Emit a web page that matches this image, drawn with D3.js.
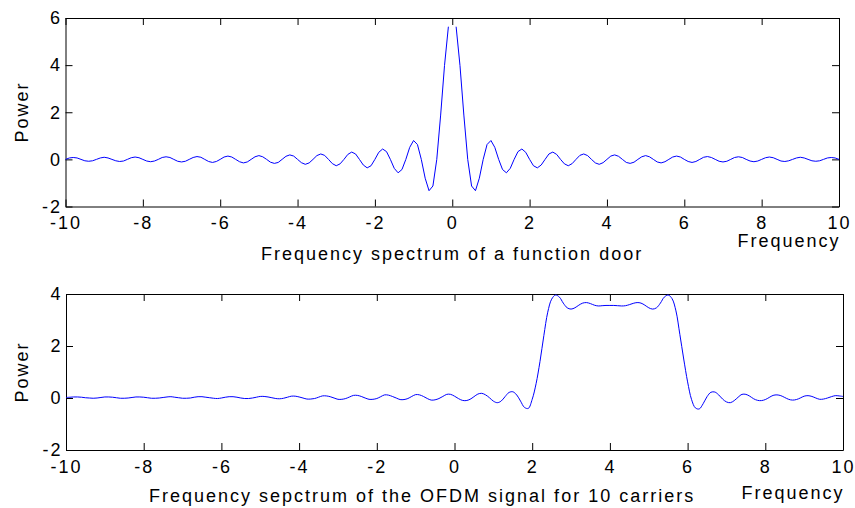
<!DOCTYPE html>
<html>
<head>
<meta charset="utf-8">
<script src="https://cdn.jsdelivr.net/npm/d3@7"></script>
<style>
  body { margin: 0; background: #fff; }
  text { font-family: "Liberation Sans", Arial, Helvetica, sans-serif; }
</style>
</head>
<body>
<svg id="chart" width="855" height="508"></svg>
<script>
// ---------------------------------------------------------------------------
// Data
// ---------------------------------------------------------------------------

// sample frequencies shared by both panels
const freq = [
  -10, -9.9, -9.8, -9.7, -9.6, -9.5, -9.4, -9.3, -9.2, -9.1,
  -9, -8.9, -8.8, -8.7, -8.6, -8.5, -8.4, -8.3, -8.2, -8.1,
  -8, -7.9, -7.8, -7.7, -7.6, -7.5, -7.4, -7.3, -7.2, -7.1,
  -7, -6.9, -6.8, -6.7, -6.6, -6.5, -6.4, -6.3, -6.2, -6.1,
  -6, -5.9, -5.8, -5.7, -5.6, -5.5, -5.4, -5.3, -5.2, -5.1,
  -5, -4.9, -4.8, -4.7, -4.6, -4.5, -4.4, -4.3, -4.2, -4.1,
  -4, -3.9, -3.8, -3.7, -3.6, -3.5, -3.4, -3.3, -3.2, -3.1,
  -3, -2.9, -2.8, -2.7, -2.6, -2.5, -2.4, -2.3, -2.2, -2.1,
  -2, -1.9, -1.8, -1.7, -1.6, -1.5, -1.4, -1.3, -1.2, -1.1,
  -1, -0.9, -0.8, -0.7, -0.6, -0.5, -0.4, -0.3, -0.2, -0.1,
  0, 0.1, 0.2, 0.3, 0.4, 0.5, 0.6, 0.7, 0.8, 0.9,
  1, 1.1, 1.2, 1.3, 1.4, 1.5, 1.6, 1.7, 1.8, 1.9,
  2, 2.1, 2.2, 2.3, 2.4, 2.5, 2.6, 2.7, 2.8, 2.9,
  3, 3.1, 3.2, 3.3, 3.4, 3.5, 3.6, 3.7, 3.8, 3.9,
  4, 4.1, 4.2, 4.3, 4.4, 4.5, 4.6, 4.7, 4.8, 4.9,
  5, 5.1, 5.2, 5.3, 5.4, 5.5, 5.6, 5.7, 5.8, 5.9,
  6, 6.1, 6.2, 6.3, 6.4, 6.5, 6.6, 6.7, 6.8, 6.9,
  7, 7.1, 7.2, 7.3, 7.4, 7.5, 7.6, 7.7, 7.8, 7.9,
  8, 8.1, 8.2, 8.3, 8.4, 8.5, 8.6, 8.7, 8.8, 8.9,
  9, 9.1, 9.2, 9.3, 9.4, 9.5, 9.6, 9.7, 9.8, 9.9,
  10
];

// spectrum of the door function (no sample at 0 -> gap in the curve)
const doorPower = [
  0, 0.06, 0.08, 0.06, 0, -0.06, -0.08, -0.06, 0, 0.06,
  0.09, 0.06, 0, -0.06, -0.09, -0.07, 0, 0.07, 0.10, 0.07,
  0, -0.07, -0.10, -0.07, 0, 0.08, 0.11, 0.08, 0, -0.08,
  -0.11, -0.08, 0, 0.08, 0.12, 0.09, 0, -0.09, -0.13, -0.09,
  0, 0.10, 0.14, 0.10, 0, -0.10, -0.15, -0.11, 0, 0.11,
  0.16, 0.11, 0, -0.12, -0.17, -0.13, 0, 0.13, 0.19, 0.14,
  0, -0.14, -0.21, -0.15, 0, 0.16, 0.23, 0.17, 0, -0.18,
  -0.27, -0.19, 0, 0.21, 0.31, 0.23, 0, -0.24, -0.36, -0.27,
  0, 0.30, 0.44, 0.33, 0, -0.38, -0.57, -0.43, 0, 0.51,
  0.80, 0.63, 0, -0.80, -1.33, -1.13, 0, 1.88, 3.98, 5.63,
  null, 5.63, 3.98, 1.88, 0, -1.13, -1.33, -0.80, 0, 0.63,
  0.80, 0.51, 0, -0.43, -0.57, -0.38, 0, 0.33, 0.44, 0.30,
  0, -0.27, -0.36, -0.24, 0, 0.23, 0.31, 0.21, 0, -0.19,
  -0.27, -0.18, 0, 0.17, 0.23, 0.16, 0, -0.15, -0.21, -0.14,
  0, 0.14, 0.19, 0.13, 0, -0.13, -0.17, -0.12, 0, 0.11,
  0.16, 0.11, 0, -0.11, -0.15, -0.10, 0, 0.10, 0.14, 0.10,
  0, -0.09, -0.13, -0.09, 0, 0.09, 0.12, 0.08, 0, -0.08,
  -0.11, -0.08, 0, 0.08, 0.11, 0.08, 0, -0.07, -0.10, -0.07,
  0, 0.07, 0.10, 0.07, 0, -0.07, -0.09, -0.06, 0, 0.06,
  0.09, 0.06, 0, -0.06, -0.08, -0.06, 0, 0.06, 0.08, 0.06,
  0
];

// spectrum of the OFDM signal, 10 carriers
const ofdmPower = [
  0.02, 0.03, 0.04, 0.04, 0.03, 0.01, 0.00, -0.01, 0.00, 0.02,
  0.04, 0.04, 0.03, 0.01, -0.01, -0.01, 0.00, 0.02, 0.04, 0.04,
  0.03, 0.01, -0.01, -0.01, 0.00, 0.02, 0.04, 0.05, 0.03, 0.01,
  -0.01, -0.01, 0.00, 0.03, 0.05, 0.05, 0.03, 0.01, -0.01, -0.02,
  0.00, 0.03, 0.05, 0.05, 0.03, 0.00, -0.02, -0.02, 0.00, 0.03,
  0.06, 0.06, 0.04, 0.01, -0.02, -0.03, -0.01, 0.03, 0.07, 0.07,
  0.04, 0.00, -0.04, -0.04, -0.02, 0.03, 0.08, 0.08, 0.05, 0.00,
  -0.05, -0.05, -0.02, 0.04, 0.10, 0.10, 0.06, 0.00, -0.05, -0.05,
  -0.02, 0.05, 0.12, 0.11, 0.06, 0.00, -0.06, -0.06, -0.02, 0.06,
  0.13, 0.12, 0.06, -0.02, -0.08, -0.07, -0.02, 0.06, 0.14, 0.14,
  0.07, -0.02, -0.09, -0.10, -0.05, 0.05, 0.15, 0.18, 0.12, 0.01,
  -0.12, -0.18, -0.12, 0.05, 0.21, 0.24, 0.12, -0.12, -0.36, -0.40,
  -0.05, 0.55, 1.40, 2.40, 3.30, 3.80, 3.96, 3.88, 3.65, 3.47,
  3.42, 3.47, 3.57, 3.65, 3.67, 3.63, 3.57, 3.54, 3.55, 3.56,
  3.56, 3.56, 3.55, 3.54, 3.55, 3.59, 3.64, 3.67, 3.65, 3.57,
  3.47, 3.42, 3.47, 3.65, 3.88, 3.96, 3.82, 3.35, 2.45, 1.50,
  0.62, -0.05, -0.38, -0.42, -0.22, 0.05, 0.22, 0.23, 0.12, -0.04,
  -0.15, -0.18, -0.10, 0.03, 0.14, 0.14, 0.07, -0.03, -0.09, -0.10,
  -0.06, 0.02, 0.10, 0.12, 0.09, 0.02, -0.05, -0.08, -0.06, 0.00,
  0.07, 0.09, 0.06, 0.00, -0.05, -0.04, 0.00, 0.05, 0.09, 0.08,
  0.06
];

const xTicks = [-10, -8, -6, -4, -2, 0, 2, 4, 6, 8, 10];
const doorYTicks = [-2, 0, 2, 4, 6];
const ofdmYTicks = [-2, 0, 2, 4];

// ---------------------------------------------------------------------------
// Drawing
// ---------------------------------------------------------------------------

const FONT = 18;
const SPACING = 2;     // the reference text is set quite loose
const TICK = 7;
const plain = d => String(d);   // ASCII hyphen for negatives, no decimals

const svg = d3.select('#chart');

function styleAxis(sel) {
  sel.attr('font-size', null).attr('font-family', null);
  sel.selectAll('text')
    .attr('font-size', FONT)
    .attr('letter-spacing', SPACING)
    .attr('fill', '#000');
  sel.selectAll('.domain, .tick line').attr('stroke', '#000');
}

function drawPanel(p) {
  const x = d3.scaleLinear().domain([-10, 10]).range([p.left, p.right]);
  const y = d3.scaleLinear().domain(p.yDomain).range([p.bottom, p.top]);

  // box with inward ticks on every side
  svg.append('g').attr('transform', `translate(0,${p.bottom})`)
    .call(d3.axisBottom(x).tickValues(xTicks).tickFormat(plain)
      .tickSizeInner(-TICK).tickSizeOuter(0).tickPadding(10))
    .call(styleAxis);
  svg.append('g').attr('transform', `translate(0,${p.top})`)
    .call(d3.axisTop(x).tickValues(xTicks).tickSizeInner(-TICK)
      .tickSizeOuter(0).tickFormat(''))
    .call(styleAxis);
  svg.append('g').attr('transform', `translate(${p.left},0)`)
    .call(d3.axisLeft(y).tickValues(p.yTicks).tickFormat(plain)
      .tickSizeInner(-TICK).tickSizeOuter(0).tickPadding(3.5))
    .call(styleAxis);
  svg.append('g').attr('transform', `translate(${p.right},0)`)
    .call(d3.axisRight(y).tickValues(p.yTicks).tickSizeInner(-TICK)
      .tickSizeOuter(0).tickFormat(''))
    .call(styleAxis);

  const line = d3.line()
    .defined(i => p.values[i] !== null)
    .x(i => x(freq[i]))
    .y(i => y(p.values[i]))
    .curve(p.curve);

  svg.append('path')
    .attr('d', line(d3.range(freq.length)))
    .attr('fill', 'none')
    .attr('stroke', '#0000ff')
    .attr('stroke-width', 1);

  const label = (tx, ty, str, anchor) => svg.append('text')
    .attr('x', tx).attr('y', ty)
    .attr('text-anchor', anchor)
    .attr('font-size', FONT)
    .attr('letter-spacing', SPACING)
    .text(str);

  label(p.right + 1.5, p.freqLabelY, 'Frequency', 'end');
  label(p.titleX, p.titleY, p.title, 'start');
  label(0, 0, 'Power', 'middle')
    .attr('transform', `translate(28,${p.powerY}) rotate(-90)`);
}

drawPanel({
  left: 65.5, right: 839, top: 18, bottom: 206.5,
  yDomain: [-2, 6], yTicks: doorYTicks,
  values: doorPower, curve: d3.curveLinear,
  freqLabelY: 246.5, titleX: 261, titleY: 260, powerY: 112,
  title: 'Frequency spectrum of a function door'
});

drawPanel({
  left: 66, right: 843, top: 294, bottom: 450,
  yDomain: [-2, 4], yTicks: ofdmYTicks,
  values: ofdmPower, curve: d3.curveCatmullRom.alpha(0.5),
  freqLabelY: 498.5, titleX: 149, titleY: 501.5, powerY: 372,
  title: 'Frequency sepctrum of the OFDM signal for 10 carriers'
});
</script>
</body>
</html>
